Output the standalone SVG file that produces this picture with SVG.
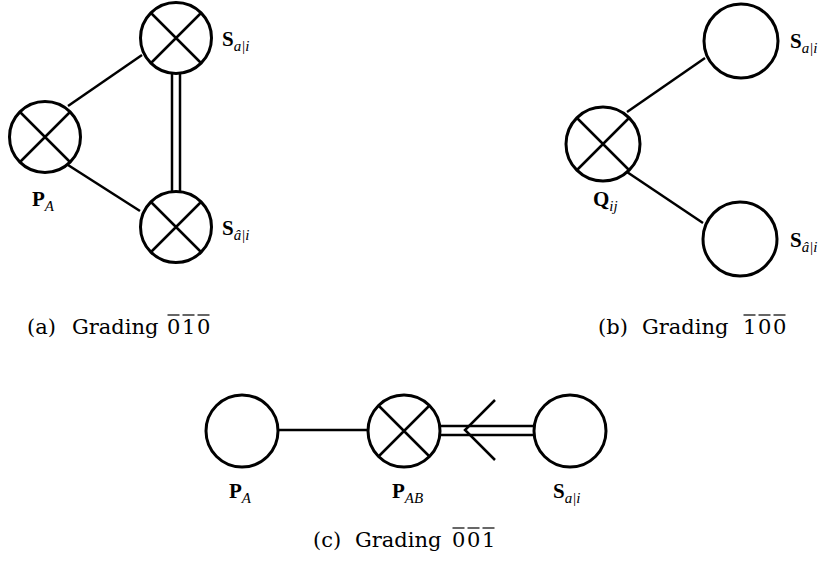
<svg xmlns="http://www.w3.org/2000/svg" width="824" height="563" viewBox="0 0 824 563">
<style>
.node{fill:#fff;stroke:#000;stroke-width:3}
.x{stroke:#000;stroke-width:2.5;fill:none}
.edge{stroke:#000;stroke-width:2.5;fill:none}
.lbl{font-family:"Liberation Serif","DejaVu Serif",serif;font-weight:bold;font-size:21px;fill:#000}
.sub{font-family:"Liberation Serif","DejaVu Serif",serif;font-style:italic;font-weight:normal;font-size:15px}
.cap{font-family:"DejaVu Serif","Liberation Serif",serif;font-size:21px;fill:#000}
.ov{stroke:#000;stroke-width:1.2}
</style>
<rect width="824" height="563" fill="#fff"/>
<g id="connectors">
  <line class="edge" x1="68" y1="106" x2="142" y2="55"/>
  <line class="edge" x1="68" y1="165" x2="140" y2="211"/>
  <line class="edge" x1="172" y1="74" x2="172" y2="191"/>
  <line class="edge" x1="180" y1="74" x2="180" y2="191"/>
  <line class="edge" x1="627" y1="112" x2="705" y2="58"/>
  <line class="edge" x1="627" y1="172" x2="703" y2="223"/>
  <line class="edge" x1="279" y1="430" x2="367" y2="430"/>
  <line class="edge" x1="441" y1="426" x2="533" y2="426"/>
  <line class="edge" x1="441" y1="435" x2="533" y2="435"/>
  <polyline class="edge" points="495,400 465,430 495,460"/>
</g>
<g id="a-S-top">
  <circle class="node" cx="176" cy="38" r="35.5"/>
  <path class="x" d="M151 13L201 63M151 63L201 13"/>
  <text class="lbl" x="222" y="46">S<tspan class="sub" dy="5">a|i</tspan></text>
</g>
<g id="a-PA">
  <circle class="node" cx="45" cy="137" r="35.5"/>
  <path class="x" d="M20 112L70 162M20 162L70 112"/>
  <text class="lbl" x="32" y="206">P<tspan class="sub" dy="5">A</tspan></text>
</g>
<g id="a-S-bottom">
  <circle class="node" cx="176" cy="227" r="35.5"/>
  <path class="x" d="M151 202L201 252M151 252L201 202"/>
  <text class="lbl" x="222" y="235">S<tspan class="sub" dy="5">â|i</tspan></text>
</g>
<g id="b-S-top">
  <circle class="node" cx="741" cy="41" r="37"/>
  <text class="lbl" x="790" y="48">S<tspan class="sub" dy="5">a|i</tspan></text>
</g>
<g id="b-Q">
  <circle class="node" cx="603" cy="144" r="37"/>
  <path class="x" d="M577 118L629 170M577 170L629 118"/>
  <text class="lbl" x="593" y="206">Q<tspan class="sub" dy="5">ij</tspan></text>
</g>
<g id="b-S-bottom">
  <circle class="node" cx="740" cy="239" r="37"/>
  <text class="lbl" x="790" y="247">S<tspan class="sub" dy="5">â|i</tspan></text>
</g>
<g id="c-PA">
  <circle class="node" cx="242" cy="431" r="36"/>
  <text class="lbl" x="229" y="498">P<tspan class="sub" dy="5">A</tspan></text>
</g>
<g id="c-PAB">
  <circle class="node" cx="404" cy="431" r="36"/>
  <path class="x" d="M378.5 405.5L429.5 456.5M378.5 456.5L429.5 405.5"/>
  <text class="lbl" x="392" y="498">P<tspan class="sub" dy="5">AB</tspan></text>
</g>
<g id="c-S">
  <circle class="node" cx="570" cy="431" r="36"/>
  <text class="lbl" x="553" y="498">S<tspan class="sub" dy="5">a|i</tspan></text>
</g>
<g id="captions">
  <text class="cap" y="334"><tspan x="27">(a)</tspan><tspan x="72">Grading</tspan><tspan x="167">0</tspan><tspan x="182">1</tspan><tspan x="197">0</tspan></text>
  <line class="ov" x1="167.5" y1="315" x2="179.5" y2="315"/>
  <line class="ov" x1="182.5" y1="315" x2="194.5" y2="315"/>
  <line class="ov" x1="197.5" y1="315" x2="209.5" y2="315"/>
  <text class="cap" y="334"><tspan x="598">(b)</tspan><tspan x="642">Grading</tspan><tspan x="743">1</tspan><tspan x="758">0</tspan><tspan x="773">0</tspan></text>
  <line class="ov" x1="743.5" y1="315" x2="755.5" y2="315"/>
  <line class="ov" x1="758.5" y1="315" x2="770.5" y2="315"/>
  <line class="ov" x1="773.5" y1="315" x2="785.5" y2="315"/>
  <text class="cap" y="547"><tspan x="313">(c)</tspan><tspan x="355">Grading</tspan><tspan x="452">0</tspan><tspan x="467">0</tspan><tspan x="482">1</tspan></text>
  <line class="ov" x1="452.5" y1="528" x2="464.5" y2="528"/>
  <line class="ov" x1="467.5" y1="528" x2="479.5" y2="528"/>
  <line class="ov" x1="482.5" y1="528" x2="494.5" y2="528"/>
</g>
</svg>
